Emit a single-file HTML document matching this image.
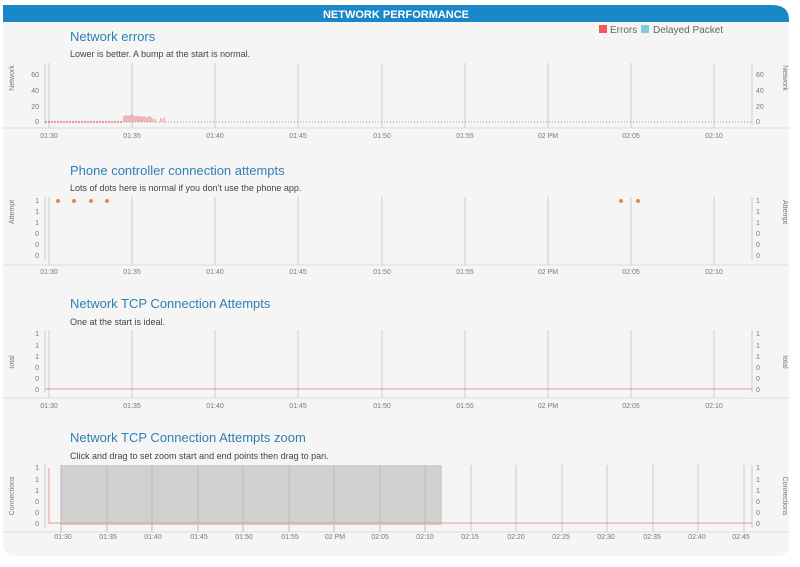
<!DOCTYPE html>
<html><head><style>
body{margin:0;background:#fff;font-family:"Liberation Sans",sans-serif}
svg text{font-family:"Liberation Sans",sans-serif}
.t{fill:#2f7fb5;font-size:13px}
.s{fill:#444;font-size:9px}
.k{fill:#777;font-size:7px}
.g{stroke:#ccc;stroke-width:1}
</style></head><body>
<svg width="800" height="562" xmlns="http://www.w3.org/2000/svg">
<path d="M3 5 H772 Q789 5 789 20 V545 Q789 556 776 556 H16 Q3 556 3 543 Z" fill="#f5f5f5"/>
<path d="M3 5 H772 Q789 5 789 20 V22 H3 Z" fill="#1a87c9"/>
<text x="396" y="18" text-anchor="middle" fill="#fff" font-size="11" font-weight="bold">NETWORK PERFORMANCE</text>
<rect x="599" y="25" width="8" height="8" fill="#ee5a55"/><text x="610" y="33" font-size="10" fill="#666">Errors</text>
<rect x="641" y="25" width="8" height="8" fill="#7fcbe3"/><text x="653" y="33" font-size="10" fill="#666">Delayed Packet</text>
<g stroke="#ddd"><line x1="3" y1="128" x2="789" y2="128"/><line x1="3" y1="265" x2="789" y2="265"/><line x1="3" y1="398" x2="789" y2="398"/><line x1="3" y1="532" x2="789" y2="532"/></g>

<!-- chart 1 -->
<text x="70" y="41" class="t">Network errors</text>
<text x="70" y="57" class="s">Lower is better. A bump at the start is normal.</text>
<g class="g"><line x1="49" y1="63" x2="49" y2="128"/><line x1="132" y1="63" x2="132" y2="128"/><line x1="215" y1="63" x2="215" y2="128"/><line x1="298" y1="63" x2="298" y2="128"/><line x1="382" y1="63" x2="382" y2="128"/><line x1="465" y1="63" x2="465" y2="128"/><line x1="548" y1="63" x2="548" y2="128"/><line x1="631" y1="63" x2="631" y2="128"/><line x1="714" y1="63" x2="714" y2="128"/><line x1="45" y1="63" x2="45" y2="125"/><line x1="752" y1="63" x2="752" y2="125"/></g>
<line x1="45" y1="122" x2="752" y2="122" stroke="#999" stroke-dasharray="1,2"/>
<line x1="45" y1="122" x2="123" y2="122" stroke="#e06060" stroke-dasharray="2,1" stroke-width="1.2"/>
<path d="M124 122V116M126 122V115M128 122V116M130 122V115M132 122V114M134 122V116M136 122V116M138 122V116M140 122V116M142 122V117M144 122V116M146 122V117M148 122V117M150 122V116M152 122V118M155 122V119M161 122V118M164 122V118" stroke="#e07070" stroke-width="0.9"/>
<g class="k" text-anchor="end"><text x="39" y="77">60</text><text x="39" y="93">40</text><text x="39" y="109">20</text><text x="39" y="124">0</text></g>
<g class="k"><text x="756" y="77">60</text><text x="756" y="93">40</text><text x="756" y="109">20</text><text x="756" y="124">0</text></g>
<text transform="translate(14,78) rotate(-90)" class="k" text-anchor="middle" font-size="6">Network</text>
<text transform="translate(783,78) rotate(90)" class="k" text-anchor="middle" font-size="6">Network</text>
<g class="k" text-anchor="middle"><text x="49" y="138">01:30</text><text x="132" y="138">01:35</text><text x="215" y="138">01:40</text><text x="298" y="138">01:45</text><text x="382" y="138">01:50</text><text x="465" y="138">01:55</text><text x="548" y="138">02 PM</text><text x="631" y="138">02:05</text><text x="714" y="138">02:10</text></g>

<!-- chart 2 -->
<text x="70" y="175" class="t">Phone controller connection attempts</text>
<text x="70" y="191" class="s">Lots of dots here is normal if you don't use the phone app.</text>
<g class="g"><line x1="49" y1="197" x2="49" y2="265"/><line x1="132" y1="197" x2="132" y2="265"/><line x1="215" y1="197" x2="215" y2="265"/><line x1="298" y1="197" x2="298" y2="265"/><line x1="382" y1="197" x2="382" y2="265"/><line x1="465" y1="197" x2="465" y2="265"/><line x1="548" y1="197" x2="548" y2="265"/><line x1="631" y1="197" x2="631" y2="265"/><line x1="714" y1="197" x2="714" y2="265"/><line x1="45" y1="197" x2="45" y2="260"/><line x1="752" y1="197" x2="752" y2="260"/></g>
<g fill="#e8855a"><circle cx="58" cy="201" r="2"/><circle cx="74" cy="201" r="2"/><circle cx="91" cy="201" r="2"/><circle cx="107" cy="201" r="2"/><circle cx="621" cy="201" r="2"/><circle cx="638" cy="201" r="2"/></g>
<g class="k" text-anchor="end"><text x="39" y="203">1</text><text x="39" y="214">1</text><text x="39" y="225">1</text><text x="39" y="236">0</text><text x="39" y="247">0</text><text x="39" y="258">0</text></g>
<g class="k"><text x="756" y="203">1</text><text x="756" y="214">1</text><text x="756" y="225">1</text><text x="756" y="236">0</text><text x="756" y="247">0</text><text x="756" y="258">0</text></g>
<text transform="translate(14,212) rotate(-90)" class="k" text-anchor="middle" font-size="6">Attempt</text>
<text transform="translate(783,212) rotate(90)" class="k" text-anchor="middle" font-size="6">Attempt</text>
<g class="k" text-anchor="middle"><text x="49" y="274">01:30</text><text x="132" y="274">01:35</text><text x="215" y="274">01:40</text><text x="298" y="274">01:45</text><text x="382" y="274">01:50</text><text x="465" y="274">01:55</text><text x="548" y="274">02 PM</text><text x="631" y="274">02:05</text><text x="714" y="274">02:10</text></g>

<!-- chart 3 -->
<text x="70" y="308" class="t">Network TCP Connection Attempts</text>
<text x="70" y="325" class="s">One at the start is ideal.</text>
<g class="g"><line x1="49" y1="330" x2="49" y2="398"/><line x1="132" y1="330" x2="132" y2="398"/><line x1="215" y1="330" x2="215" y2="398"/><line x1="298" y1="330" x2="298" y2="398"/><line x1="382" y1="330" x2="382" y2="398"/><line x1="465" y1="330" x2="465" y2="398"/><line x1="548" y1="330" x2="548" y2="398"/><line x1="631" y1="330" x2="631" y2="398"/><line x1="714" y1="330" x2="714" y2="398"/><line x1="45" y1="330" x2="45" y2="393"/><line x1="752" y1="330" x2="752" y2="393"/></g>
<line x1="45" y1="389" x2="752" y2="389" stroke="#e89a8a"/>
<g class="k" text-anchor="end"><text x="39" y="336">1</text><text x="39" y="348">1</text><text x="39" y="359">1</text><text x="39" y="370">0</text><text x="39" y="381">0</text><text x="39" y="392">0</text></g>
<g class="k"><text x="756" y="336">1</text><text x="756" y="348">1</text><text x="756" y="359">1</text><text x="756" y="370">0</text><text x="756" y="381">0</text><text x="756" y="392">0</text></g>
<text transform="translate(14,362) rotate(-90)" class="k" text-anchor="middle" font-size="6">total</text>
<text transform="translate(783,362) rotate(90)" class="k" text-anchor="middle" font-size="6">total</text>
<g class="k" text-anchor="middle"><text x="49" y="408">01:30</text><text x="132" y="408">01:35</text><text x="215" y="408">01:40</text><text x="298" y="408">01:45</text><text x="382" y="408">01:50</text><text x="465" y="408">01:55</text><text x="548" y="408">02 PM</text><text x="631" y="408">02:05</text><text x="714" y="408">02:10</text></g>

<!-- chart 4 -->
<text x="70" y="442" class="t">Network TCP Connection Attempts zoom</text>
<text x="70" y="459" class="s">Click and drag to set zoom start and end points then drag to pan.</text>
<rect x="61" y="465" width="381" height="60" fill="#d0d0d0"/>
<g stroke="#bbb"><line x1="61" y1="465" x2="61" y2="532"/><line x1="107" y1="465" x2="107" y2="532"/><line x1="152" y1="465" x2="152" y2="532"/><line x1="198" y1="465" x2="198" y2="532"/><line x1="243" y1="465" x2="243" y2="532"/><line x1="289" y1="465" x2="289" y2="532"/><line x1="334" y1="465" x2="334" y2="532"/><line x1="380" y1="465" x2="380" y2="532"/><line x1="425" y1="465" x2="425" y2="532"/></g>
<g class="g"><line x1="471" y1="465" x2="471" y2="532"/><line x1="516" y1="465" x2="516" y2="532"/><line x1="562" y1="465" x2="562" y2="532"/><line x1="607" y1="465" x2="607" y2="532"/><line x1="653" y1="465" x2="653" y2="532"/><line x1="698" y1="465" x2="698" y2="532"/><line x1="744" y1="465" x2="744" y2="532"/><line x1="45" y1="465" x2="45" y2="528"/><line x1="752" y1="465" x2="752" y2="528"/></g>
<path d="M49 468V523H752" stroke="#e89a8a" fill="none"/>
<g class="k" text-anchor="end"><text x="39" y="470">1</text><text x="39" y="482">1</text><text x="39" y="493">1</text><text x="39" y="504">0</text><text x="39" y="515">0</text><text x="39" y="526">0</text></g>
<g class="k"><text x="756" y="470">1</text><text x="756" y="482">1</text><text x="756" y="493">1</text><text x="756" y="504">0</text><text x="756" y="515">0</text><text x="756" y="526">0</text></g>
<text transform="translate(14,496) rotate(-90)" class="k" text-anchor="middle" font-size="6">Connections</text>
<text transform="translate(783,496) rotate(90)" class="k" text-anchor="middle" font-size="6">Connections</text>
<g class="k" text-anchor="middle"><text x="63" y="539">01:30</text><text x="108" y="539">01:35</text><text x="153" y="539">01:40</text><text x="199" y="539">01:45</text><text x="244" y="539">01:50</text><text x="290" y="539">01:55</text><text x="335" y="539">02 PM</text><text x="380" y="539">02:05</text><text x="425" y="539">02:10</text><text x="470" y="539">02:15</text><text x="516" y="539">02:20</text><text x="561" y="539">02:25</text><text x="606" y="539">02:30</text><text x="652" y="539">02:35</text><text x="697" y="539">02:40</text><text x="741" y="539">02:45</text></g>
</svg>
</body></html>
